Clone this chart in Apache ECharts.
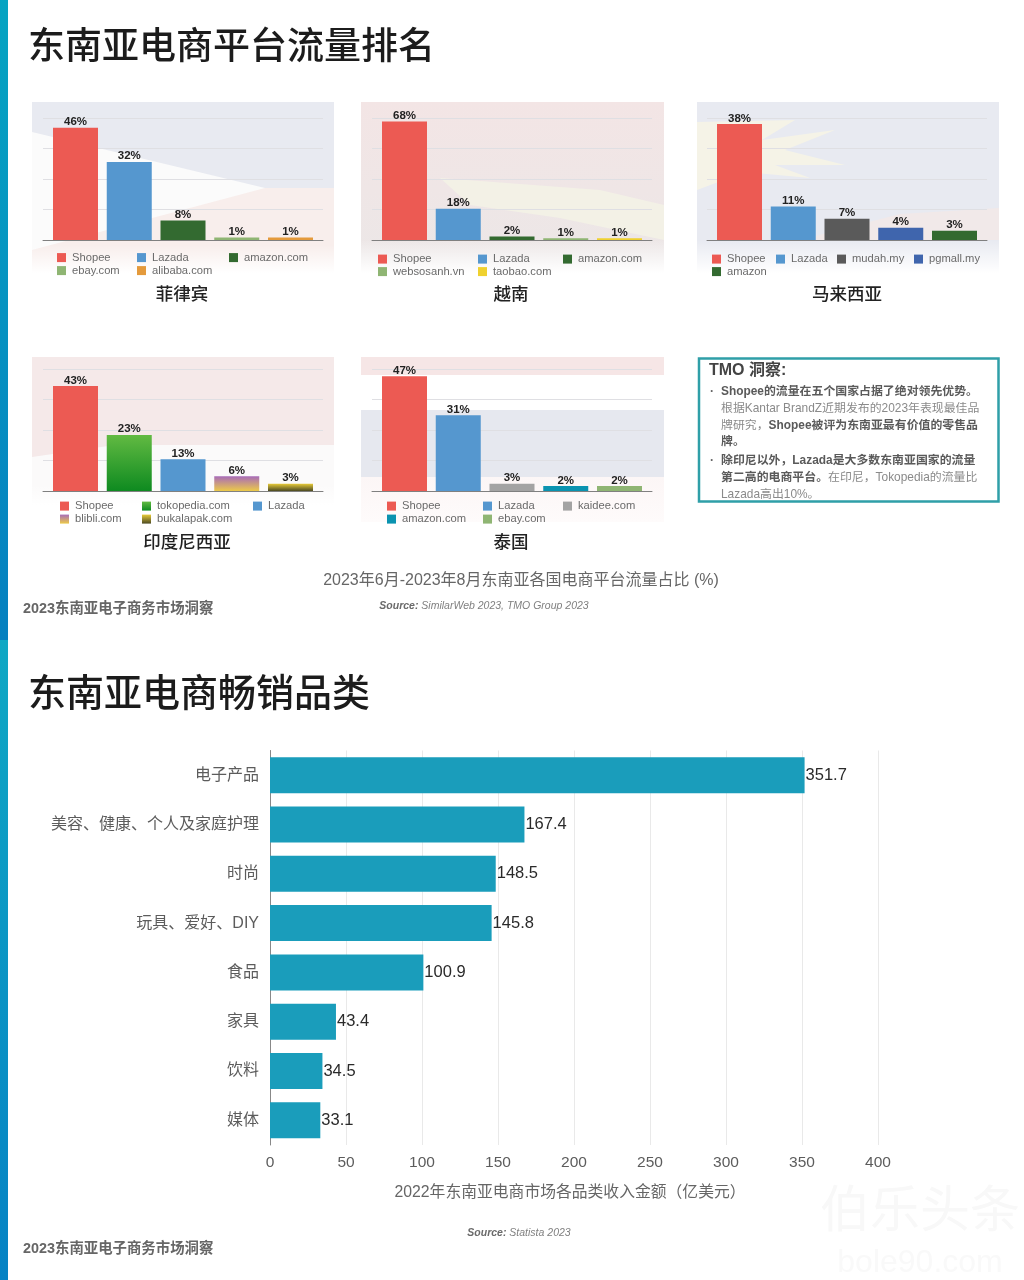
<!DOCTYPE html>
<html><head><meta charset="utf-8">
<style>html,body{margin:0;padding:0;background:#fff}#c{width:1024px;height:1280px;filter:blur(0.5px)}</style>
<script src="https://cdn.jsdelivr.net/npm/echarts@6/dist/echarts.min.js"></script>
</head><body><div id="c"></div>
<script>
// ---- data ----
const phNames=['Shopee','Lazada','amazon.com','ebay.com','alibaba.com'];
const phValues=[46,32,8,1,1];
const vnNames=['Shopee','Lazada','amazon.com','websosanh.vn','taobao.com'];
const vnValues=[68,18,2,1,1];
const myNames=['Shopee','Lazada','mudah.my','pgmall.my','amazon'];
const myValues=[38,11,7,4,3];
const idNames=['Shopee','tokopedia.com','Lazada','blibli.com','bukalapak.com'];
const idValues=[43,23,13,6,3];
const thNames=['Shopee','Lazada','kaidee.com','amazon.com','ebay.com'];
const thValues=[47,31,3,2,2];
const categoryNames=['电子产品','美容、健康、个人及家庭护理','时尚','玩具、爱好、DIY','食品','家具','饮料','媒体'];
const categoryValues=[351.7,167.4,148.5,145.8,100.9,43.4,34.5,33.1];
const valueTicks={min:0,max:400,interval:50};
const titleTop='东南亚电商平台流量排名';
const titleBottom='东南亚电商畅销品类';
const captionTop='2023年6月-2023年8月东南亚各国电商平台流量占比 (%)';
const captionBottom='2022年东南亚电商市场各品类收入金额（亿美元）';
const footer='2023东南亚电子商务市场洞察';
const insightLines=[
 ['·','{b|Shopee的流量在五个国家占据了绝对领先优势。}'],
 ['','根据Kantar BrandZ近期发布的2023年表现最佳品'],
 ['','牌研究，{b|Shopee被评为东南亚最有价值的零售品}'],
 ['','{b|牌。}'],
 ['·','{b|除印尼以外，Lazada是大多数东南亚国家的流量}'],
 ['','{b|第二高的电商平台。}在印尼，Tokopedia的流量比'],
 ['','Lazada高出10%。']
];
// ---- styles ----
const FONT='"Liberation Sans","Noto Sans CJK SC",sans-serif';
const RED='#ec5a53',BLUE='#5597cf',DKG='#336a30',LTG='#8fb573';
const grad=(a,b)=>({type:'linear',x:0,y:0,x2:0,y2:1,colorStops:[{offset:0,color:a},{offset:1,color:b}]});
const panels=[
 {title:'菲律宾',tx:182,ty:295,names:phNames,values:phValues,max:50,left:43,base:240,
  colors:[RED,BLUE,DKG,LTG,'#e49a3c'],
  leg:[[57,258.5],[137,258.5],[229,258.5],[57,271.5],[137,271.5]]},
 {title:'越南',tx:511,ty:295,names:vnNames,values:vnValues,max:70,left:372,base:240,
  colors:[RED,BLUE,DKG,LTG,'#efd12f'],
  leg:[[378,260],[478,260],[563,260],[378,272.5],[478,272.5]]},
 {title:'马来西亚',tx:847,ty:295,names:myNames,values:myValues,max:40,left:707,base:240,
  colors:[RED,BLUE,'#5a5a5a','#3f65ad',DKG],
  leg:[[712,260],[776,260],[837,260],[914,260],[712,272.5]]},
 {title:'印度尼西亚',tx:187,ty:543,names:idNames,values:idValues,max:50,left:43,base:491,
  colors:[RED,grad('#62ba42','#0e8a20'),BLUE,grad('#a86cb8','#ecca48'),grad('#e8cb38','#4c4a22')],
  leg:[[60,507],[142,507],[253,507],[60,520],[142,520]]},
 {title:'泰国',tx:511,ty:543,names:thNames,values:thValues,max:50,left:372,base:491,
  colors:[RED,BLUE,'#a3a3a3','#0a93b0',LTG],
  leg:[[387,507],[483,507],[563,507],[387,520],[483,520]]}
];
const BAND=53.75,GW=280,GH=122;
const grid=[],xAxis=[],yAxis=[],series=[],legend=[],g=[];
panels.forEach((p,i)=>{
  grid.push({left:p.left,top:p.base-GH,width:GW,height:GH});
  const pad=(GW/BAND-5)/2;
  xAxis.push({gridIndex:i,type:'value',min:-0.5-pad,max:4.5+pad,splitLine:{show:false},axisTick:{show:false},axisLabel:{show:false},
    axisLine:{show:true,onZero:false,lineStyle:{color:'#808080',width:1}}});
  yAxis.push({gridIndex:i,type:'value',min:0,max:p.max,interval:p.max/4,axisLine:{show:false},axisTick:{show:false},axisLabel:{show:false},
    splitLine:{lineStyle:{color:'#dfdfe3',width:1}}});
  p.names.forEach((n,j)=>{
    series.push({type:'bar',name:n,xAxisIndex:i,yAxisIndex:i,barWidth:45,barGap:'-100%',data:[[j,p.values[j]]],
      itemStyle:{color:p.colors[j]},
      label:{show:true,position:'top',distance:0,fontFamily:FONT,fontSize:11.5,fontWeight:'bold',color:'#222',formatter:o=>o.value[1]+'%'}});
    legend.push({left:p.leg[j][0],top:p.leg[j][1]-6.5,padding:0,itemWidth:9,itemHeight:9,itemGap:0,icon:'rect',selectedMode:false,
      textStyle:{fontFamily:FONT,fontSize:11.2,color:'#6a6a6a',padding:[0,0,0,1]},
      data:[{name:n,itemStyle:{color:p.colors[j]}}]});
  });
  g.push({type:'text',z:10,style:{text:p.title,x:p.tx,y:p.ty,align:'center',verticalAlign:'middle',font:'500 17.5px '+FONT,fill:'#222'}});
});
// bottom chart
const bi=panels.length;
grid.push({left:270,top:750.5,width:608,height:394.5});
xAxis.push({gridIndex:bi,type:'value',min:valueTicks.min,max:valueTicks.max,interval:valueTicks.interval,
  axisLine:{show:false},axisTick:{show:false},axisLabel:{margin:10,fontFamily:FONT,fontSize:15.5,color:'#5c5c5c'},
  splitLine:{lineStyle:{color:'#e9e9e9',width:1}}});
yAxis.push({gridIndex:bi,type:'category',inverse:true,data:categoryNames,axisTick:{show:false},
  axisLine:{lineStyle:{color:'#888',width:1}},axisLabel:{margin:11,fontFamily:FONT,fontSize:16,color:'#5c5c5c',padding:[2,0,0,0]}});
series.push({type:'bar',name:'收入金额',xAxisIndex:bi,yAxisIndex:bi,data:categoryValues,barWidth:36,itemStyle:{color:'#1a9dbb'},
  label:{show:true,position:'right',distance:1,fontFamily:FONT,fontSize:16.5,color:'#2a2a2a',padding:[2,0,0,0]}});
// page decoration
const rect=(x,y,w,h,fill,z=-5)=>({type:'rect',z,silent:true,shape:{x,y,width:w,height:h},style:{fill}});
const poly=(points,fill,z=-4)=>({type:'polygon',z,silent:true,shape:{points},style:{fill}});
const fade=(x,y,w,h)=>rect(x-1,y,w+2,h,grad('rgba(255,255,255,0)','rgba(255,255,255,1)'),-3);
const text=(t,x,y,font,fill,align='left',z=10)=>({type:'text',z,silent:true,style:{text:t,x,y,align,verticalAlign:'middle',font:font+' '+FONT,fill}});
g.push(rect(0,0,8,640,grad('#06a4c2','#0680c0')),rect(0,640,8,640,grad('#0fa8c4','#0682c4')));
// Philippines flag
g.push(rect(32,102,302,175,'#e8eaf1'),
  rect(32,188,302,89,'#f8eeec'),
  poly([[32,132],[265,188],[32,250],[32,132]],'#fbfbfb'),
  fade(32,245,302,28),rect(31,273,304,6,'#fff',-3));
// Vietnam flag
g.push(rect(361,102,303,175,grad('#f3e5e5','#ebe7e7')),
  poly([[440,178],[600,190],[664,205],[664,240],[560,218],[470,205]],'#f3f1e6'),
  fade(361,240,303,33),rect(360,273,306,6,'#fff',-3));
// Malaysia flag
g.push(rect(697,102,302,175,'#e8eaf1'),
  poly([[697,122],[795,120],[762,140],[835,130],[785,150],[845,165],[775,165],[810,178],[745,172],[697,190]],'#f5f3e7'),
  poly([[800,240],[999,240],[999,208],[900,214]],'#f1e9e9'),
  fade(697,240,302,33),rect(696,273,304,6,'#fff',-3));
// Indonesia flag
g.push(rect(32,357,302,88,'#f5e9e9'),
  poly([[32,445],[115,445],[32,457]],'#f5e9e9'),
  rect(32,445,302,60,'#fbfafa',-6),
  fade(32,485,302,20),rect(31,505,304,22,'#fff',-3));
// Thailand flag
g.push(rect(361,357,303,18,'#f6e6e6'),
  rect(361,410,303,67,'#e6e8ef'),
  rect(361,477,303,45,grad('#fcf6f6','#fefbfb')));
// titles
g.push(text(titleTop,28,49,'500 37px','#1c1c1c'),
  text(titleBottom,28,696,'500 38px','#1c1c1c'),
  text(captionTop,521,581,'400 16px','#666','center'),
  text(footer,23,609,'700 14.4px','#666'),
  text(footer,23,1249,'700 14.4px','#666'),
  text(captionBottom,570,1193,'400 15.8px','#666','center'));
const src=(parts,x,y)=>({type:'text',z:10,silent:true,style:{x,y,align:'center',verticalAlign:'middle',text:parts,
  font:'italic 10.5px '+FONT,fill:'#808080',rich:{s:{font:'italic bold 10.5px '+FONT,fill:'#6a6a6a'}}}});
g.push(src('{s|Source:} SimilarWeb 2023, TMO Group 2023',484,606.5),src('{s|Source:} Statista 2023',519,1233.5));
// insight box
g.push({type:'rect',z:1,silent:true,shape:{x:699,y:358.5,width:299.5,height:143},style:{fill:'#fff',stroke:'#2f9fa8',lineWidth:2.5}});
g.push(text('TMO 洞察:',709,370.5,'700 16px','#444'));
const lineY=[391.5,409,426,442,461,478,495];
insightLines.forEach((l,i)=>{
  if(l[0])g.push(text(l[0],710,lineY[i],'700 12px','#666'));
  g.push({type:'text',z:10,silent:true,style:{x:721,y:lineY[i],verticalAlign:'middle',text:l[1],font:'400 11.9px '+FONT,fill:'#8a8a8a',
    rich:{b:{font:'700 11.9px '+FONT,fill:'#5a5a5a'}}}});
});
// watermark
g.push(text('伯乐头条',920,1213,'400 50px','#f8f8f8','center',1),text('bole90.com',920,1263,'400 32px','#f9f9f9','center',1));

const chart=echarts.init(document.getElementById('c'),null,{width:1024,height:1280});
chart.setOption({backgroundColor:'#fff',animation:false,textStyle:{fontFamily:FONT},grid,xAxis,yAxis,series,legend,graphic:{elements:g}});
</script></body></html>
